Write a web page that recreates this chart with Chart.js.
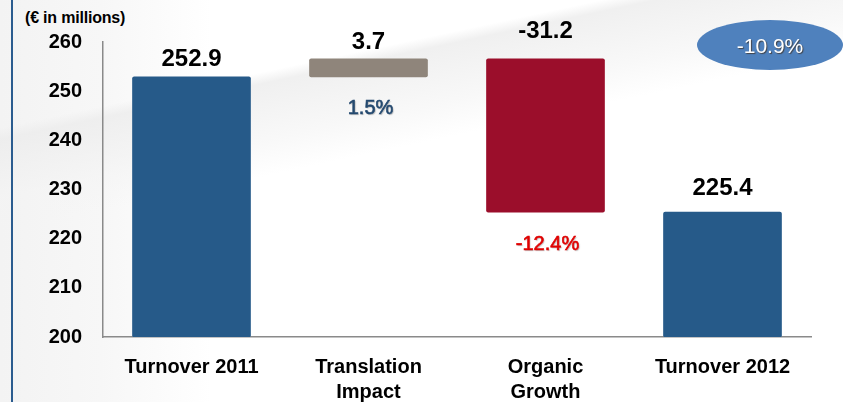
<!DOCTYPE html>
<html>
<head>
<meta charset="utf-8">
<script src="https://cdn.jsdelivr.net/npm/chart.js"></script>
<style>
  html, body { margin:0; padding:0; }
  body {
    width:843px; height:402px; overflow:hidden; position:relative;
    background:
      linear-gradient(168deg, rgba(255,255,255,0) 0%, rgba(255,255,255,0) 22%, rgba(236,236,236,0.8) 24%, rgba(244,244,244,0.6) 34%, rgba(255,255,255,0) 40%, rgba(255,255,255,0) 100%),
      linear-gradient(90deg, #f3f3f3 0%, #f7f7f7 12%, #ffffff 25%, #ffffff 100%);
  }
  #vline { position:absolute; left:11px; top:0; width:2px; height:402px; background:#2b5c8f; }
  #wrap { position:absolute; left:0; top:0; width:843px; height:402px; }
  #unit { position:absolute; left:25px; top:9px; font:bold 16px "Liberation Sans", Arial, sans-serif; color:#000; letter-spacing:-0.2px; }
</style>
</head>
<body>
<div id="vline"></div>
<div id="unit">(€ in millions)</div>
<div id="wrap"><canvas id="c" width="843" height="402"></canvas></div>
<script>
const categories = [["Turnover 2011"], ["Translation", "Impact"], ["Organic", "Growth"], ["Turnover 2012"]];
const changes = [252.9, 3.7, -31.2, 225.4];       // totals and deltas
const isTotal = [true, false, false, true];
const valueLabels = ["252.9", "3.7", "-31.2", "225.4"];
const pctLabels = ["", "1.5%", "-12.4%", ""];
const yTicks = [200, 210, 220, 230, 240, 250, 260];
const totalChangeLabel = "-10.9%";
const barColors = ["#265a89", "#8f857b", "#9b0e2b", "#265a89"];

// build floating bars from the arrays
const bars = [];
let running = 0;
changes.forEach((v, i) => {
  if (isTotal[i]) { bars.push([200, v]); running = v; }
  else { bars.push([running, running + v]); running += v; }
});

const labelOffsets = [18, 16, 27, 24];
const pctColors = ["#000", "#24496f", "#e00000", "#000"];

const annot = {
  id: 'annot',
  afterDatasetsDraw(chart) {
    const ctx = chart.ctx;
    const meta = chart.getDatasetMeta(0);
    const ys = chart.scales.y;
    ctx.save();
    meta.data.forEach((el, i) => {
      const hi = Math.max(bars[i][0], bars[i][1]);
      const lo = Math.min(bars[i][0], bars[i][1]);
      const yTop = ys.getPixelForValue(hi);
      const yBot = ys.getPixelForValue(lo);
      ctx.font = 'bold 24px "Liberation Sans", Arial, sans-serif';
      ctx.fillStyle = '#000';
      ctx.textAlign = 'center';
      ctx.textBaseline = 'middle';
      ctx.fillText(valueLabels[i], el.x, yTop - labelOffsets[i]);
      if (pctLabels[i]) {
        ctx.font = '20px "Liberation Sans", Arial, sans-serif';
        ctx.fillStyle = pctColors[i];
        ctx.strokeStyle = pctColors[i];
        ctx.lineWidth = 0.6;
        ctx.shadowColor = 'rgba(120,120,120,0.5)';
        ctx.shadowBlur = 1;
        ctx.shadowOffsetX = 1; ctx.shadowOffsetY = 1;
        ctx.fillText(pctLabels[i], el.x + 2, yBot + 32);
        ctx.shadowColor = 'transparent';
        ctx.strokeText(pctLabels[i], el.x + 2, yBot + 32);
      }
    });
    // ellipse
    ctx.beginPath();
    ctx.ellipse(770, 45, 73, 25, 0, 0, Math.PI * 2);
    ctx.fillStyle = '#4f81bd';
    ctx.fill();
    ctx.font = '21px "Liberation Sans", Arial, sans-serif';
    ctx.shadowColor = 'rgba(60,40,20,0.7)';
    ctx.shadowBlur = 1;
    ctx.shadowOffsetX = 1; ctx.shadowOffsetY = 1;
    ctx.fillStyle = '#ffffff';
    ctx.textAlign = 'center';
    ctx.textBaseline = 'middle';
    ctx.fillText(totalChangeLabel, 770, 47);
    ctx.restore();
  }
};

Chart.defaults.font.family = '"Liberation Sans", Arial, sans-serif';
new Chart(document.getElementById('c'), {
  type: 'bar',
  data: {
    labels: categories,
    datasets: [{
      data: bars,
      backgroundColor: barColors,
      borderSkipped: false,
      borderRadius: 2,
      barThickness: 118
    }]
  },
  options: {
    responsive: false,
    animation: false,
    plugins: { legend: { display: false }, tooltip: { enabled: false } },
    layout: { padding: { left: 0, top: 42, right: 32, bottom: 0 } },
    scales: {
      y: {
        min: 200, max: 260,
        afterFit(s) { s.width = 103; },
        afterBuildTicks(s) { s.ticks = yTicks.map(v => ({ value: v })); },
        grid: { display: false, drawTicks: false },
        border: { display: true, color: '#8a8a8a', width: 1.5 },
        ticks: { color: '#000', padding: 21, font: { size: 20, weight: 'bold' } }
      },
      x: {
        afterFit(s) { s.height = 65; },
        grid: { display: false, drawTicks: false },
        border: { display: true, color: '#8a8a8a', width: 1.5 },
        ticks: { color: '#000', padding: 18, maxRotation: 0, autoSkip: false,
                 font: { size: 20, weight: 'bold', lineHeight: 1.25 } }
      }
    }
  },
  plugins: [annot]
});
</script>
</body>
</html>
